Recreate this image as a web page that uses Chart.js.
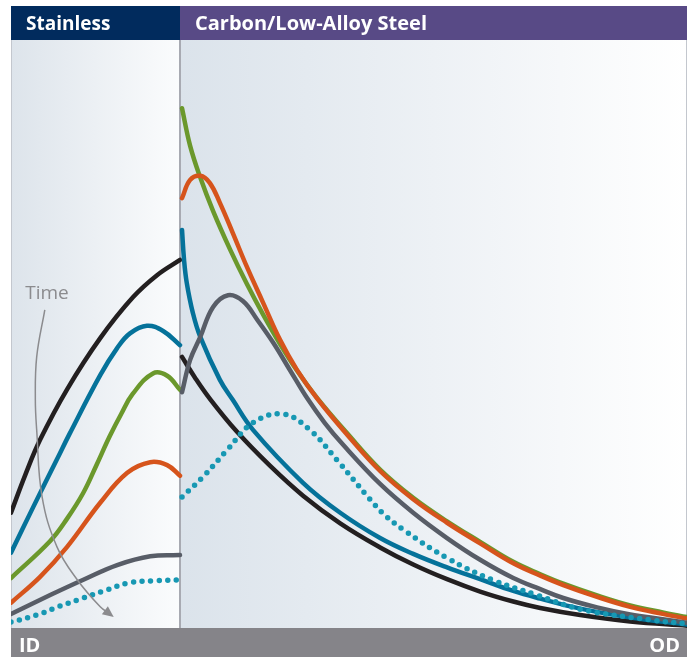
<!DOCTYPE html>
<html>
<head>
<meta charset="utf-8">
<script src="https://cdn.jsdelivr.net/npm/chart.js@4.4.1/dist/chart.umd.min.js"></script>
<style>
    html, body {margin: 0; padding: 0; background: #ffffff;}
    #chart {display: block;}
</style>
</head>
<body>
<canvas id="chart" width="691" height="657"></canvas>
<script>
// MODULE'S VARS
// x: depth through the wall, 0 = ID, 100 = OD; y: relative level (0..100)
const X_DIVIDE = 25; // stainless cladding / carbon steel interface
const ZONE_LABELS = ['Stainless', 'Carbon/Low-Alloy Steel'];
const EDGE_LABELS = ['ID', 'OD'];
const ARROW_LABEL = 'Time';

const blackStainless = [[0, 19.6], [2.1, 26.0], [4.3, 32.0], [8.3, 40.6], [13.2, 49.3], [18.0, 56.2], [21.6, 60.0], [25, 62.6]];
const blackCarbon = [[25.3, 46.1], [27.2, 42.6], [29.4, 39.0], [33.4, 33.4], [38.3, 27.6], [43.2, 22.5], [48.7, 17.8], [54.6, 13.7], [59.5, 10.8], [64.5, 8.3], [69.4, 6.2], [74.3, 4.5], [78.3, 3.4], [84.2, 2.2], [91.6, 1.1], [100, 0.4]];

const blueStainless = [[0, 12.8], [3.3, 20.6], [6.8, 28.7], [8.7, 33.1], [13.2, 43.0], [15.7, 47.6], [17.6, 50.1], [20.1, 51.4], [22.5, 50.5], [25, 48.1]];
const blueCarbon = [[25.3, 67.7], [25.6, 62.6], [26.0, 58.7], [26.9, 53.6], [28.0, 49.5], [30.9, 42.2], [32.8, 38.8], [35.8, 33.7], [43.2, 24.7], [48.7, 19.6], [54.6, 15.3], [59.5, 12.6], [64.5, 10.3], [69.4, 8.3], [74.3, 6.3], [78.3, 5.0], [84.2, 3.3], [91.6, 1.8], [100, 0.6]];

const greenStainless = [[0, 8.5], [5.8, 14.8], [8.3, 18.6], [10.7, 23.0], [12.6, 27.6], [14.6, 32.6], [16.3, 36.4], [18.0, 39.8], [21.0, 43.3], [23.1, 42.9], [25, 40.5]];
const greenCarbon = [[25.3, 88.4], [26.5, 82.0], [28.0, 76.6], [29.9, 70.9], [32.4, 64.4], [34.9, 58.5], [37.3, 53.3], [39.8, 48.3], [42.3, 43.8], [45.3, 39.1], [49.7, 33.15], [54.6, 26.95], [59.5, 22.15], [64.5, 18.15], [69.4, 14.65], [74.3, 11.25], [78.3, 9.15], [81.7, 7.55], [86.7, 5.55], [91.6, 3.85], [96.4, 2.65], [100, 1.85]];

const orangeStainless = [[0, 4.3], [4.3, 8.7], [8.3, 13.8], [13.2, 21.3], [17.2, 26.4], [20.6, 28.2], [23.1, 27.7], [25, 25.9]];
const orangeCarbon = [[25.3, 73.1], [26.5, 76.2], [28.0, 76.9], [29.4, 75.7], [30.9, 72.3], [32.8, 67.2], [34.9, 61.4], [37.3, 55.3], [39.8, 49.0], [42.3, 43.9], [45.3, 39.0], [49.7, 32.9], [54.6, 26.7], [59.5, 21.9], [64.5, 17.9], [69.4, 14.4], [74.3, 11.0], [78.3, 8.9], [81.7, 7.3], [86.7, 5.3], [91.6, 3.6], [96.4, 2.4], [100, 1.6]];

const grayStainless = [[0, 2.4], [5.8, 5.6], [10.7, 8.2], [15.7, 10.7], [20.6, 12.2], [25, 12.4]];
const grayCarbon = [[25.3, 40.1], [26.5, 45.6], [28.0, 49.5], [29.9, 54.6], [32.1, 56.6], [34.3, 55.6], [36.5, 52.3], [38.8, 48.5], [41.3, 43.8], [43.8, 39.1], [46.4, 34.9], [49.1, 31.2], [54.6, 24.5], [59.5, 19.6], [64.5, 15.3], [69.4, 11.6], [74.3, 8.5], [78.3, 6.6], [81.7, 5.1], [86.7, 3.5], [91.6, 2.3], [96.4, 1.5], [100, 0.9]];

const dotStainless = [[0, 1.0], [3.8, 2.2], [7.2, 3.7], [10.7, 5.1], [14.2, 6.5], [17.6, 7.7], [21.0, 8.0], [25, 8.2]];
const dotCarbon = [[25.3, 22.3], [28.4, 25.7], [32.0, 30.3], [35.8, 34.9], [40.2, 36.4], [44.2, 33.7], [48.2, 28.6], [53.1, 21.9], [55.3, 19.2], [58.3, 16.5], [64.5, 11.9], [71.2, 8.2], [77.8, 5.6], [84.6, 3.1], [94.5, 1.4], [100, 0.7]];

const timeArrow = [[5.0, 54.1], [3.8, 46.1], [3.6, 38.8], [3.8, 33.7], [4.6, 22.3], [6.8, 13.8], [9.8, 8.2], [13.2, 3.6], [14.6, 2.4]];
const timeLabelAt = [2.1, 55.9];

// MODULE'S FUNCTIONS
const toPoints = (pairs) => pairs.map(([x, y]) => ({x, y}));
// join both zones into one series, broken at the interface
const joinZones = (a, b) => [...toPoints(a), {x: X_DIVIDE, y: null}, ...toPoints(b)];

function curve(data, color, dotted) {
    return {
        data,
        borderColor: color,
        borderWidth: dotted ? 5.5 : 4.5,
        borderDash: dotted ? [0, 8.6] : [],
        borderCapStyle: 'round',
        borderJoinStyle: 'round',
        tension: 0.4,
        pointRadius: 0,
        spanGaps: false,
        fill: false,
    };
}

const decor = {
    id: 'decor',
    beforeDatasetsDraw(chart) {
        const {ctx, chartArea: a, scales: {x}} = chart;
        const xd = x.getPixelForValue(X_DIVIDE);
        ctx.save();
        // zone backgrounds
        let g = ctx.createLinearGradient(a.left, 0, xd, 0);
        g.addColorStop(0, '#dde4eb');
        g.addColorStop(1, '#fbfcfd');
        ctx.fillStyle = g;
        ctx.fillRect(a.left, a.top, xd - a.left, a.bottom - a.top);
        g = ctx.createLinearGradient(xd, 0, a.right, 0);
        g.addColorStop(0, '#dbe3eb');
        g.addColorStop(1, '#ffffff');
        ctx.fillStyle = g;
        ctx.fillRect(xd, a.top, a.right - xd, a.bottom - a.top);
        // borders
        ctx.fillStyle = '#c3c7ce';
        ctx.fillRect(a.left, a.top, 1, a.bottom - a.top);
        ctx.fillRect(a.right - 1, a.top, 1, a.bottom - a.top);
        ctx.fillStyle = '#a8aab2';
        ctx.fillRect(xd - 1, a.top, 2, a.bottom - a.top);
        // header
        const hTop = a.top - 34;
        ctx.fillStyle = '#012b5d';
        ctx.fillRect(a.left, hTop, xd - a.left, a.top - hTop);
        ctx.fillStyle = '#584a86';
        ctx.fillRect(xd, hTop, a.right - xd, a.top - hTop);
        ctx.fillStyle = '#ffffff';
        ctx.textBaseline = 'alphabetic';
        ctx.textAlign = 'left';
        ctx.font = 'bold 19px "Open Sans"';
        ctx.fillText(ZONE_LABELS[0], a.left + 15, a.top - 10);
        ctx.font = 'bold 20px "Open Sans"';
        ctx.fillText(ZONE_LABELS[1], xd + 15, a.top - 10);
        // footer
        ctx.fillStyle = '#858489';
        ctx.fillRect(a.left, a.bottom, a.right - a.left, chart.height - a.bottom);
        ctx.fillStyle = '#ffffff';
        ctx.font = 'bold 20px "Open Sans"';
        ctx.fillText(EDGE_LABELS[0], a.left + 8, chart.height - 5);
        ctx.textAlign = 'right';
        ctx.fillText(EDGE_LABELS[1], a.right - 7, chart.height - 5);
        ctx.restore();
    },
    afterDatasetsDraw(chart) {
        const {ctx, scales: {x, y}} = chart;
        // arrow is the first dataset
        const pts = chart.getDatasetMeta(0).data;
        const p1 = pts[pts.length - 2], p2 = pts[pts.length - 1];
        const ang = Math.atan2(p2.y - p1.y, p2.x - p1.x);
        ctx.save();
        ctx.fillStyle = '#8b8b8e';
        ctx.translate(p2.x + 3 * Math.cos(ang), p2.y + 3 * Math.sin(ang));
        ctx.rotate(ang);
        ctx.beginPath();
        ctx.moveTo(2, 0);
        ctx.lineTo(-9, -5);
        ctx.lineTo(-9, 5);
        ctx.closePath();
        ctx.fill();
        ctx.restore();
        ctx.save();
        ctx.fillStyle = '#8b8b8e';
        ctx.font = '19px "Open Sans"';
        ctx.textAlign = 'left';
        ctx.textBaseline = 'alphabetic';
        ctx.fillText(ARROW_LABEL, x.getPixelForValue(timeLabelAt[0]), y.getPixelForValue(timeLabelAt[1]));
        ctx.restore();
    },
};

// MAIN FUNCTIONALITY
// first dataset is drawn on top
const datasets = [
    {
        data: toPoints(timeArrow),
        borderColor: '#8b8b8e',
        borderWidth: 1.5,
        tension: 0.4,
        pointRadius: 0,
        fill: false,
    },
    curve(joinZones(dotStainless, dotCarbon), '#1798b3', true),
    curve(joinZones(grayStainless, grayCarbon), '#585d67'),
    curve(joinZones(orangeStainless, orangeCarbon), '#d6541c'),
    curve(joinZones(greenStainless, greenCarbon), '#6b982c'),
    curve(joinZones(blueStainless, blueCarbon), '#05729a'),
    curve(joinZones(blackStainless, blackCarbon), '#231f20'),
];

new Chart(document.getElementById('chart').getContext('2d'), {
    type: 'line',
    data: {datasets},
    options: {
        responsive: false,
        animation: false,
        events: [],
        layout: {padding: {left: 11, right: 4, top: 40, bottom: 29}},
        plugins: {legend: {display: false}, tooltip: {enabled: false}},
        scales: {
            x: {type: 'linear', min: 0, max: 100, display: false},
            y: {type: 'linear', min: 0, max: 100, display: false},
        },
    },
    plugins: [decor],
});
</script>
</body>
</html>
